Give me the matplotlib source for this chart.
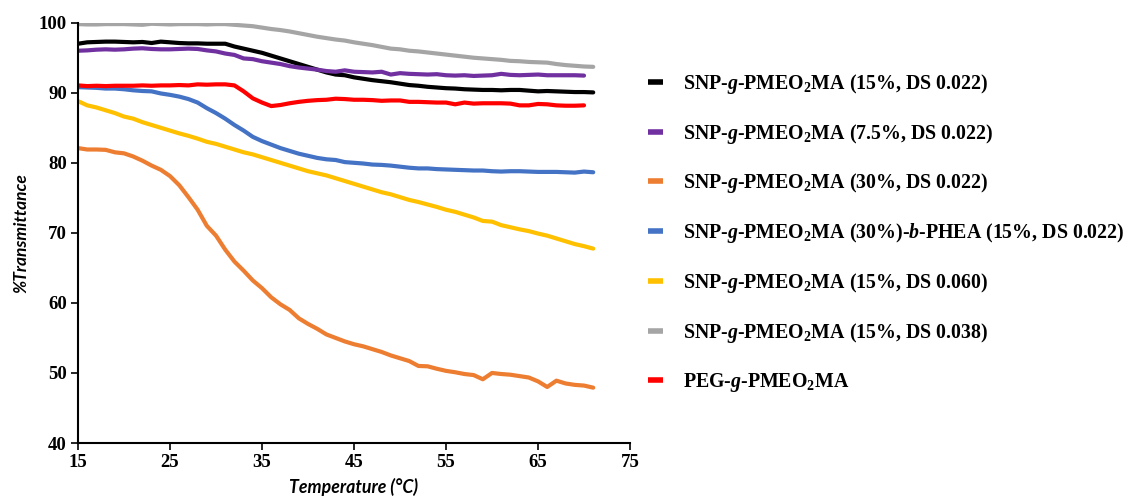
import matplotlib
matplotlib.use("Agg")
import matplotlib.pyplot as plt

# temperature grid (°C)
temps = [15, 16, 17, 18, 19, 20, 21, 22, 23, 24, 25, 26, 27, 28, 29, 30,
         31, 32, 33, 34, 35, 36, 37, 38, 39, 40, 41, 42, 43, 44, 45, 46,
         47, 48, 49, 50, 51, 52, 53, 54, 55, 56, 57, 58, 59, 60, 61, 62,
         63, 64, 65, 66, 67, 68, 69, 70, 71]

snp_15_022 = [97.0, 97.2, 97.25, 97.3, 97.3, 97.25, 97.2, 97.25, 97.1, 97.3, 97.2, 97.1, 97.05, 97.05, 97.0, 97.0,
              97.0, 96.6, 96.3, 96.0, 95.7, 95.3, 94.9, 94.5, 94.1, 93.7, 93.3, 92.9, 92.6, 92.5, 92.2, 92.0,
              91.8, 91.65, 91.5, 91.3, 91.1, 91.0, 90.85, 90.75, 90.65, 90.6, 90.5, 90.45, 90.4, 90.4, 90.35, 90.4,
              90.4, 90.3, 90.2, 90.25, 90.2, 90.15, 90.1, 90.1, 90.05]

snp_75_022 = [96.0, 96.05, 96.15, 96.2, 96.15, 96.2, 96.3, 96.35, 96.25, 96.2, 96.2, 96.25, 96.3, 96.25, 96.05, 95.9,
              95.6, 95.4, 94.9, 94.8, 94.5, 94.3, 94.1, 93.8, 93.6, 93.45, 93.3, 93.1, 93.0, 93.2, 93.0, 92.95,
              92.9, 93.0, 92.6, 92.8, 92.7, 92.65, 92.6, 92.65, 92.5, 92.45, 92.5, 92.4, 92.45, 92.5, 92.7, 92.55,
              92.5, 92.55, 92.6, 92.5, 92.5, 92.5, 92.5, 92.45]

snp_30_022 = [82.1, 81.9, 81.9, 81.85, 81.5, 81.35, 80.9, 80.3, 79.6, 79.0, 78.1, 76.8, 75.1, 73.3, 71.0, 69.6,
              67.6, 65.9, 64.6, 63.2, 62.1, 60.8, 59.8, 59.0, 57.8, 57.0, 56.3, 55.5, 55.0, 54.5, 54.1, 53.8,
              53.4, 53.0, 52.5, 52.1, 51.7, 51.0, 50.95, 50.6, 50.3, 50.1, 49.85, 49.7, 49.1, 50.0, 49.85, 49.75,
              49.55, 49.35, 48.8, 48.0, 48.9, 48.5, 48.3, 48.2, 47.9]

snp_30_phea = [90.8, 90.75, 90.7, 90.6, 90.6, 90.5, 90.35, 90.25, 90.2, 89.9, 89.7, 89.45, 89.1, 88.6, 87.8, 87.1,
               86.3, 85.4, 84.6, 83.7, 83.1, 82.6, 82.1, 81.7, 81.3, 81.0, 80.7, 80.5, 80.4, 80.1, 80.0, 79.9,
               79.75, 79.7, 79.6, 79.45, 79.3, 79.2, 79.2, 79.1, 79.05, 79.0, 78.95, 78.9, 78.9, 78.8, 78.75, 78.8,
               78.8, 78.75, 78.7, 78.7, 78.7, 78.65, 78.6, 78.75, 78.65]

snp_15_060 = [88.8, 88.2, 87.9, 87.5, 87.1, 86.6, 86.3, 85.8, 85.4, 85.0, 84.6, 84.2, 83.85, 83.45, 83.0, 82.7,
              82.3, 81.9, 81.5, 81.2, 80.8, 80.4, 80.0, 79.6, 79.2, 78.8, 78.5, 78.2, 77.8, 77.4, 77.0, 76.6,
              76.2, 75.8, 75.5, 75.1, 74.7, 74.4, 74.05, 73.7, 73.3, 73.0, 72.6, 72.2, 71.7, 71.6, 71.1, 70.8,
              70.5, 70.25, 69.9, 69.6, 69.2, 68.8, 68.4, 68.1, 67.75]

snp_15_038 = [99.8, 99.75, 99.75, 99.8, 99.8, 99.8, 99.75, 99.7, 99.85, 99.8, 99.75, 99.8, 99.8, 99.8, 99.75, 99.8,
              99.8, 99.7, 99.6, 99.5, 99.3, 99.1, 98.95, 98.75, 98.5, 98.25, 98.0, 97.8, 97.6, 97.45, 97.2, 97.0,
              96.8, 96.55, 96.3, 96.2, 96.0, 95.9, 95.75, 95.6, 95.45, 95.3, 95.15, 95.0, 94.9, 94.8, 94.7, 94.55,
              94.5, 94.4, 94.35, 94.3, 94.1, 93.95, 93.85, 93.75, 93.7]

peg = [91.05, 90.95, 91.0, 90.95, 91.0, 91.0, 91.0, 91.05, 91.0, 91.05, 91.05, 91.1, 91.05, 91.2, 91.15, 91.2,
       91.2, 91.05, 90.2, 89.2, 88.6, 88.1, 88.25, 88.5, 88.7, 88.85, 88.95, 89.0, 89.15, 89.1, 89.0, 89.0,
       88.95, 88.85, 88.9, 88.9, 88.7, 88.7, 88.65, 88.6, 88.6, 88.35, 88.6, 88.45, 88.5, 88.5, 88.5, 88.45,
       88.2, 88.2, 88.4, 88.35, 88.2, 88.15, 88.15, 88.2]

g = r"$\mathit{g}$"
labels = [
    "SNP-" + g + r"-PMEO$_2$MA (15%, DS 0.022)",
    "SNP-" + g + r"-PMEO$_2$MA (7.5%, DS 0.022)",
    "SNP-" + g + r"-PMEO$_2$MA (30%, DS 0.022)",
    "SNP-" + g + r"-PMEO$_2$MA (30%)-$\mathit{b}$-PHEA (15%, DS 0.022)",
    "SNP-" + g + r"-PMEO$_2$MA (15%, DS 0.060)",
    "SNP-" + g + r"-PMEO$_2$MA (15%, DS 0.038)",
    "PEG-" + g + r"-PMEO$_2$MA",
]
series = [snp_15_022, snp_75_022, snp_30_022, snp_30_phea, snp_15_060, snp_15_038, peg]
colors = ["#000000", "#7030A0", "#ED7D31", "#4472C4", "#FFC000", "#A5A5A5", "#FF0000"]

plt.rcParams['mathtext.fontset'] = 'custom'
plt.rcParams['mathtext.rm'] = 'Liberation Serif:bold'
plt.rcParams['mathtext.it'] = 'Liberation Serif:bold:italic'
plt.rcParams['mathtext.bf'] = 'Liberation Serif:bold'

fig = plt.figure(figsize=(11.23, 4.99), dpi=100)
ax = fig.add_axes([0.0695, 0.1122, 0.4915, 0.8423])

for vals, lab, col in zip(series, labels, colors):
    ax.plot(temps[:len(vals)], vals, color=col, lw=3, label=lab, solid_capstyle='round')

ax.set_xlim(15, 75)
ax.set_ylim(40, 100)
ax.set_xticks([15, 25, 35, 45, 55, 65, 75])
ax.set_yticks([40, 50, 60, 70, 80, 90, 100])
for s in ['top', 'right']:
    ax.spines[s].set_visible(False)
for s in ['left', 'bottom']:
    ax.spines[s].set_linewidth(1.5)
ax.tick_params(direction='out', length=5, width=1.2, pad=3)
for t in ax.get_xticklabels() + ax.get_yticklabels():
    t.set_fontfamily('Liberation Serif')
    t.set_fontweight('bold')
    t.set_fontsize(13.5)

ax.set_xlabel('Temperature (°C)', fontfamily='Lato', fontstyle='italic', fontweight='bold', fontsize=12.8, labelpad=5)
ax.set_ylabel('%Transmittance', fontfamily='Lato', fontstyle='italic', fontweight='bold', fontsize=12.5, labelpad=7)

leg = ax.legend(loc='upper left', bbox_to_anchor=(0.561, 0.892), bbox_transform=fig.transFigure,
                frameon=False, handlelength=0.75, handletextpad=1.0, labelspacing=1.3,
                prop={'family': 'Liberation Serif', 'weight': 'bold', 'size': 14.3})
for h in leg.get_lines():
    h.set_linewidth(4)
    h.set_solid_capstyle('butt')

fig.savefig('out.png', dpi=100)
